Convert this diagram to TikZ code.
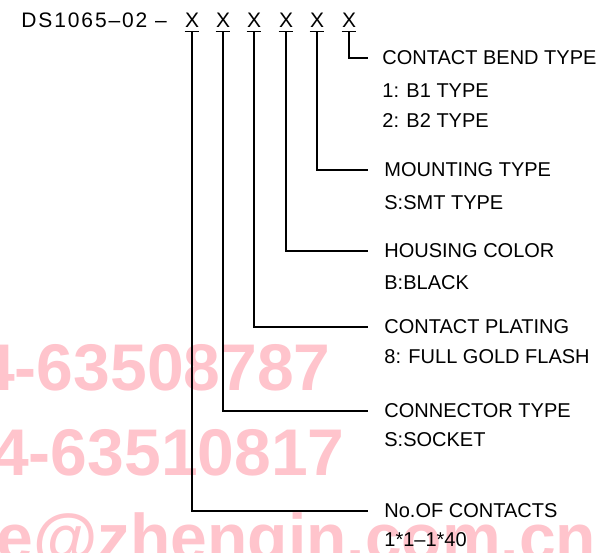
\documentclass[tikz,border=0pt]{standalone}
\usepackage{fontspec}
\setmainfont{Liberation Sans}
\usetikzlibrary{positioning}
\definecolor{wmpink}{RGB}{255,196,204}

\begin{document}
\begin{tikzpicture}[
                x=0.5pt, y=-0.5pt,
                every node/.style={inner sep=0pt},
                part/.style={anchor=base, font=\fontsize{10.5}{12}\selectfont, inner ysep=2pt},
                head/.style={anchor=west, font=\fontsize{10}{12}\selectfont, inner xsep=8pt},
                detail/.style={anchor=west, font=\fontsize{10}{12}\selectfont},
                lead/.style={line width=0.6pt},
                watermark/.style={anchor=base east, text=wmpink, font=\fontsize{33}{36}\selectfont\bfseries}
            ]
            \useasboundingbox (0,0) rectangle (614,552);

            % Watermark
            \begin{scope}
                \clip (0,0) rectangle (614,552);
                \node[watermark] (wmA) at (331,390) {4-63508787};
                \node[watermark] (wmB) at (345,475) {4-63510817};
                \node[watermark, anchor=base west] (wmC) at (-4,560) {e@zhengin.com.cn};
            \end{scope}

            % Part number
            \node[part, anchor=base west] (code) at (21,27) {\addfontfeatures{LetterSpace=9}DS1065--02 --};
            \foreach \i/\x in {1/192, 2/223, 3/254, 4/286, 5/317, 6/349}
                \node[part] (x\i) at (\x,27) {X};
            \foreach \i in {1,...,6}
                \draw[lead] (x\i.south west) -- (x\i.south east);

            % Labels
            \node[head, inner xsep=7pt] (bend) at (368,58) {CONTACT BEND TYPE};
            \node[detail] (bendA) at (382,91) {1: B1 TYPE};
            \node[detail] (bendB) at (382,121) {2: B2 TYPE};
            \node[head] (mount) at (368,170) {MOUNTING TYPE};
            \node[detail] (mountA) at (384,203) {S:SMT TYPE};
            \node[head] (color) at (368,251) {HOUSING COLOR};
            \node[detail] (colorA) at (384,283) {B:BLACK};
            \node[head] (plating) at (368,327) {CONTACT PLATING};
            \node[detail] (platingA) at (384,357) {8: FULL GOLD FLASH};
            \node[head] (conn) at (368,411) {CONNECTOR TYPE};
            \node[detail] (connA) at (384,440) {S:SOCKET};
            \node[head] (count) at (368,511) {No.OF CONTACTS};
            \node[detail] (countA) at (384,540) {1*1--1*40};

            % Leaders
            \draw[lead] (x6.south) |- (bend.west);
            \draw[lead] (x5.south) |- (mount.west);
            \draw[lead] (x4.south) |- (color.west);
            \draw[lead] (x3.south) |- (plating.west);
            \draw[lead] (x2.south) |- (conn.west);
            \draw[lead] (x1.south) |- (count.west);

\end{tikzpicture}
\end{document}
